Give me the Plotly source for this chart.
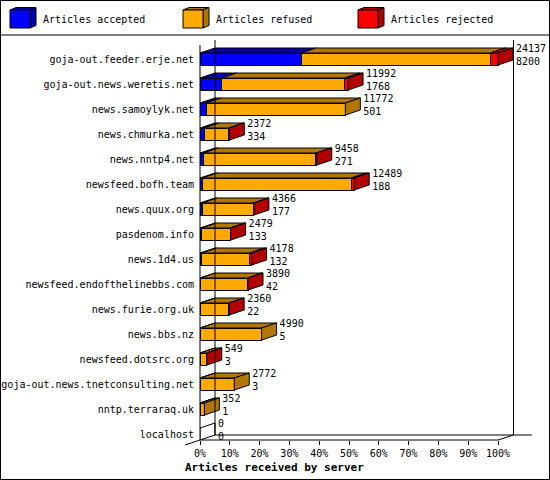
import plotly.graph_objects as go

servers = ["goja-out.feeder.erje.net", "goja-out.news.weretis.net", "news.samoylyk.net",
           "news.chmurka.net", "news.nntp4.net", "newsfeed.bofh.team", "news.quux.org",
           "pasdenom.info", "news.1d4.us", "newsfeed.endofthelinebbs.com", "news.furie.org.uk",
           "news.bbs.nz", "newsfeed.dotsrc.org", "goja-out.news.tnetconsulting.net",
           "nntp.terraraq.uk", "localhost"]
accepted = [8200, 1768, 501, 334, 271, 188, 177, 133, 132, 42, 22, 5, 3, 3, 1, 0]
refused = [15317, 9954, 11271, 1998, 9117, 12061, 4139, 2306, 3886, 3808, 2308, 4985, 526, 2769, 351, 0]
rejected = [620, 270, 0, 40, 70, 240, 50, 40, 160, 40, 30, 0, 20, 0, 0, 0]
series_names = ["Articles accepted", "Articles refused", "Articles rejected"]
x_ticks = [0, 10, 20, 30, 40, 50, 60, 70, 80, 90, 100]

front_cols = ["#0000FF", "#FFAA00", "#FF0000"]
dark_cols = ["#0000B2", "#B27700", "#B20000"]
FONT = "DejaVu Sans Mono"

# pixel geometry of the picture
W, H = 550, 480
L, R, T, B = 200, 2, 35, 40
pw, ph = W - L - R, H - T - B
upx = 100 / 298.0           # x units per pixel
x_max = pw * upx
y_bot, y_top = 15.24, -0.96  # 25 px per category
dx = 15 * upx
dz = 5 / 25.0
h = 0.24


def px_x(p):
    return (p - L) / pw


def px_y(p):
    return (H - B - p) / ph


totals = [a + r + j for a, r, j in zip(accepted, refused, rejected)]
mx = max(totals)
segs = [accepted, refused, rejected]

fig = go.Figure()

# front faces
for i in range(3):
    fig.add_trace(go.Bar(y=list(range(len(servers))), x=[v / mx * 100 for v in segs[i]],
                         orientation="h", width=2 * h, marker_color=front_cols[i],
                         marker_line=dict(color="black", width=1), showlegend=False,
                         hoverinfo="skip"))

# top faces
for i in range(3):
    xs, ys = [], []
    for k in range(len(servers)):
        if segs[i][k] <= 0:
            continue
        a = sum(s[k] for s in segs[:i]) / mx * 100
        b = a + segs[i][k] / mx * 100
        xs += [a, b, b + dx, a + dx, a, None]
        ys += [k - h, k - h, k - h - dz, k - h - dz, k - h, None]
    fig.add_trace(go.Scatter(x=xs, y=ys, mode="lines", fill="toself", fillcolor=dark_cols[i],
                             line=dict(color="black", width=1), showlegend=False, hoverinfo="skip"))

# side faces
for k in range(len(servers)):
    e = totals[k] / mx * 100
    col = "white"
    for i in range(3):
        if segs[i][k] > 0:
            col = dark_cols[i]
    fig.add_trace(go.Scatter(x=[e, e + dx, e + dx, e, e], y=[k - h, k - h - dz, k + h - dz, k + h, k - h],
                             mode="lines", fill="toself", fillcolor=col,
                             line=dict(color="black", width=1), showlegend=False, hoverinfo="skip"))

# value labels (total on top, accepted below)
lab_x = [t / mx * 100 + dx + 3 * upx for t in totals]
fig.add_trace(go.Scatter(x=lab_x, y=[k - 0.38 for k in range(len(servers))],
                         mode="text", text=[str(t) for t in totals],
                         textposition="middle right", textfont=dict(family=FONT, size=10, color="black"),
                         cliponaxis=False, showlegend=False, hoverinfo="skip"))
fig.add_trace(go.Scatter(x=lab_x, y=[k + 0.12 for k in range(len(servers))],
                         mode="text", text=[str(a) for a in accepted],
                         textposition="middle right", textfont=dict(family=FONT, size=10, color="black"),
                         cliponaxis=False, showlegend=False, hoverinfo="skip"))

shapes = []


def line(x0, y0, x1, y1):
    shapes.append(dict(type="line", xref="paper", yref="paper", x0=px_x(x0), y0=px_y(y0),
                       x1=px_x(x1), y1=px_y(y1), line=dict(color="black", width=1)))


# frame
line(200, 45, 200, 440)
line(215, 40, 215, 435)
line(513.5, 40, 513.5, 435)
line(215, 435, 532, 435)
line(200, 440, 498, 440)
line(498, 440, 513.5, 435)
line(185, 445, 200, 440)
line(0, 35, 550, 35)
shapes.append(dict(type="rect", xref="paper", yref="paper", x0=px_x(0.5), y0=px_y(0.5),
                   x1=px_x(549.5), y1=px_y(479.5), line=dict(color="black", width=1)))


def poly(pts, col):
    path = "M " + " L ".join(f"{px_x(a)},{px_y(b)}" for a, b in pts) + " Z"
    shapes.append(dict(type="path", xref="paper", yref="paper", path=path, fillcolor=col,
                       line=dict(color="black", width=1)))


annotations = []
for i, (lx, name) in enumerate(zip([10, 183, 358], series_names)):
    poly([(lx, 10), (lx + 6, 7.5), (lx + 26, 7.5), (lx + 20, 10)], dark_cols[i])
    poly([(lx + 20, 10), (lx + 26, 7.5), (lx + 26, 25.5), (lx + 20, 28)], dark_cols[i])
    poly([(lx, 10), (lx + 20, 10), (lx + 20, 28), (lx, 28)], front_cols[i])
    annotations.append(dict(xref="paper", yref="paper", x=px_x(lx + 31), y=px_y(19.5), text=name,
                            showarrow=False, xanchor="left", yanchor="middle",
                            font=dict(family=FONT, size=10, color="black")))

annotations.append(dict(xref="paper", yref="paper", x=px_x(274), y=px_y(467), text="<b>Articles received by server</b>",
                        showarrow=False, xanchor="center", yanchor="middle",
                        font=dict(family=FONT, size=11, color="black")))

fig.update_layout(
    width=W, height=H, barmode="stack",
    margin=dict(l=L, r=R, t=T, b=B, pad=0),
    paper_bgcolor="white", plot_bgcolor="white",
    font=dict(family=FONT, size=10, color="black"),
    shapes=shapes, annotations=annotations,
    xaxis=dict(range=[0, x_max], tickvals=x_ticks, ticktext=[f"{v}%" for v in x_ticks],
               ticks="outside", ticklen=4, tickcolor="black", showgrid=False, zeroline=False,
               showline=False, fixedrange=True),
    yaxis=dict(range=[y_bot, y_top], tickvals=list(range(len(servers))), ticktext=servers,
               ticks="", showgrid=False, zeroline=False, showline=False, ticklabelstandoff=5,
               fixedrange=True),
)

fig.write_html("out.html", config={"displayModeBar": False},
               post_script="document.body.style.margin='0';")
